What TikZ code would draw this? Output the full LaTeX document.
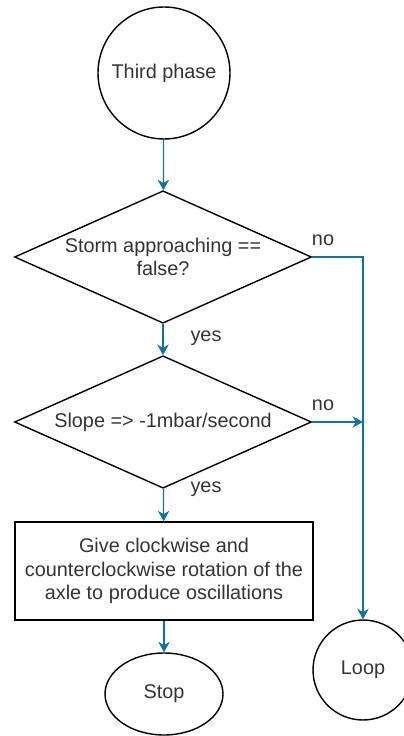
\documentclass[tikz,border=0pt]{standalone}
\usepackage{fontspec}
\setmainfont{Liberation Sans}
\usetikzlibrary{shapes.geometric,arrows.meta}
\definecolor{flowblue}{HTML}{10739E}
\definecolor{txtgray}{HTML}{333333}
\tikzset{
  box/.style={draw, line width=0.8pt, text=txtgray, align=center,
    font=\fontsize{11.3}{13.4}\selectfont},
  decision/.style={box, diamond, aspect=2.23, inner sep=-4pt,
    minimum width=5.94cm, minimum height=2.65cm},
  flow/.style={draw=flowblue, line width=0.7pt, -{Stealth[length=6pt,width=6.5pt]}},
  flowline/.style={draw=flowblue, line width=0.7pt, -},
  answer/.style={text=txtgray, font=\fontsize{11.3}{13.4}\selectfont}
}
\begin{document}
\begin{tikzpicture}[x=0.02cm, y=-0.02cm]
\useasboundingbox (0,0) rectangle (403,736);
\node[box, circle, minimum size=2.64cm, inner sep=0pt] (start) at (164,73) {Third phase};
\node[decision] (storm) at (163,257) {Storm approaching ==\\false?};
\node[decision] (slope) at (163,422) {Slope => -1mbar/second};
\node[box, rectangle, minimum width=5.96cm, minimum height=1.96cm, inner sep=0pt] (act) at (164,571)
  {Give clockwise and\\counterclockwise rotation of the\\axle to produce oscillations};
\node[box, ellipse, minimum width=2.36cm, minimum height=1.64cm, inner sep=0pt] (stop) at (164,694) {Stop};
\node[box, circle, minimum size=2cm, inner sep=0pt] (loop) at (363,670) {Loop};

\coordinate (bend) at (363,257);
\coordinate (join) at (363,422);

\node[answer] (no1) at (323,240) {no};
\node[answer] (no2) at (323,405) {no};
\node[answer] (yes1) at (206,338) {yes};
\node[answer] (yes2) at (206,489) {yes};

\path[flow] (start) -- (storm);
\path[flow] (storm) -- (slope);
\path[flow] (slope) -- (act);
\path[flow] (act) -- (stop);
\path[flow] (storm.east) -- (bend) -- (loop);
\path[flow] (slope.east) -- (join);
\end{tikzpicture}
\end{document}
